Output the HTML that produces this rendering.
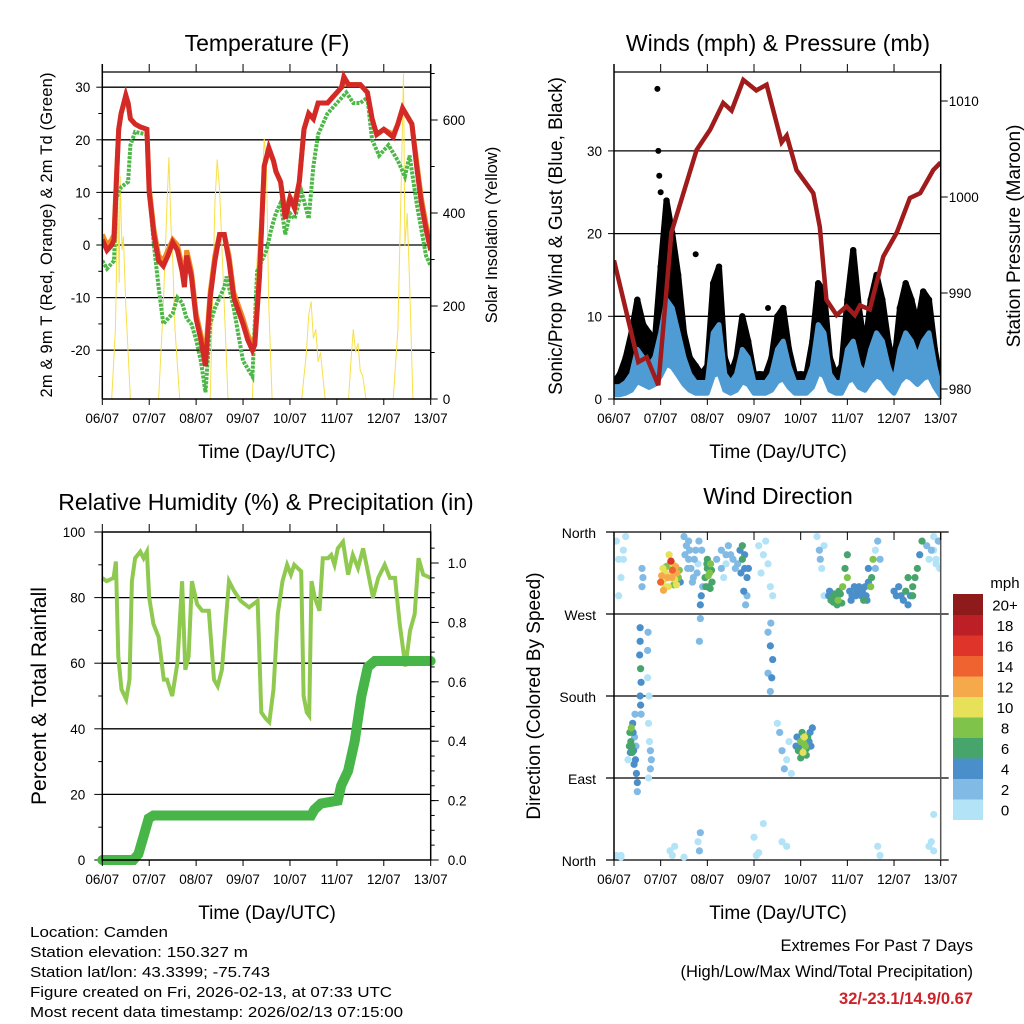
<!DOCTYPE html>
<html><head><meta charset="utf-8"><style>
body{margin:0;background:#fff}
svg{display:block;font-family:"Liberation Sans",sans-serif}
</style></head><body>
<svg id="s" width="1024" height="1024" viewBox="0 0 1024 1024" xmlns="http://www.w3.org/2000/svg">
<text x="267" y="51" font-size="23" text-anchor="middle">Temperature (F)</text>
<text x="778" y="51" font-size="23" text-anchor="middle">Winds (mph) &amp; Pressure (mb)</text>
<text x="266" y="510" font-size="23" text-anchor="middle">Relative Humidity (%) &amp; Precipitation (in)</text>
<text x="778" y="504" font-size="23" text-anchor="middle">Wind Direction</text>
<text transform="translate(52,235) rotate(-90)" font-size="16.5" text-anchor="middle" textLength="325">2m &amp; 9m T (Red, Orange) &amp; 2m Td (Green)</text>
<text transform="translate(497,235) rotate(-90)" font-size="16.5" text-anchor="middle">Solar Insolation (Yellow)</text>
<text transform="translate(562,236) rotate(-90)" font-size="19" text-anchor="middle">Sonic/Prop Wind &amp; Gust (Blue, Black)</text>
<text transform="translate(1020,236) rotate(-90)" font-size="19" text-anchor="middle">Station Pressure (Maroon)</text>
<text transform="translate(46,696) rotate(-90)" font-size="21" text-anchor="middle">Percent &amp; Total Rainfall</text>
<text transform="translate(540,696) rotate(-90)" font-size="19" text-anchor="middle">Direction (Colored By Speed)</text>
<text x="267" y="458" font-size="19" text-anchor="middle">Time (Day/UTC)</text>
<text x="778" y="458" font-size="19" text-anchor="middle">Time (Day/UTC)</text>
<text x="267" y="919" font-size="19" text-anchor="middle">Time (Day/UTC)</text>
<text x="778" y="919" font-size="19" text-anchor="middle">Time (Day/UTC)</text>
<g font-size="14.5">
<text x="30" y="937" textLength="138" lengthAdjust="spacingAndGlyphs">Location: Camden</text>
<text x="30" y="957" textLength="218" lengthAdjust="spacingAndGlyphs">Station elevation: 150.327 m</text>
<text x="30" y="977" textLength="240" lengthAdjust="spacingAndGlyphs">Station lat/lon: 43.3399; -75.743</text>
<text x="30" y="997" textLength="362" lengthAdjust="spacingAndGlyphs">Figure created on Fri, 2026-02-13, at 07:33 UTC</text>
<text x="30" y="1017" textLength="373" lengthAdjust="spacingAndGlyphs">Most recent data timestamp: 2026/02/13 07:15:00</text>
</g>
<text x="973" y="951" font-size="16.5" text-anchor="end">Extremes For Past 7 Days</text>
<text x="973" y="977" font-size="16.5" text-anchor="end">(High/Low/Max Wind/Total Precipitation)</text>
<text x="973" y="1004" font-size="16.5" font-weight="bold" fill="#cc2229" text-anchor="end">32/-23.1/14.9/0.67</text>
</svg>
<script>
// ---- data ----
const dayLabels=["06/07","07/07","08/07","09/07","10/07","11/07","12/07","13/07"];
const tT=[0,0.1,0.2,0.25,0.3,0.35,0.4,0.5,0.55,0.6,0.7,0.8,0.95,1.0,1.1,1.2,1.3,1.4,1.5,1.6,1.7,1.75,1.8,1.9,2.0,2.1,2.2,2.3,2.4,2.5,2.6,2.7,2.8,3.0,3.1,3.2,3.25,3.35,3.45,3.55,3.65,3.7,3.8,3.9,4.0,4.1,4.2,4.3,4.4,4.5,4.6,4.7,4.8,4.9,5.0,5.1,5.15,5.25,5.5,5.65,5.75,5.85,6.0,6.2,6.3,6.4,6.6,6.7,6.8,6.9,7.0];
const tempRed=[1,-1,0,1,12,22,25,28.5,27,24,23,22.5,22,10,2,-3,-4,-2,0.5,-1,-5,-8,-2,-6,-14,-18,-23,-10,-3,2,2,-3,-10,-15,-18,-20,-19,-6,15,18.5,16,14,12,5,9,7,12,22,25,24,27,27,27,28,29,30,32,30.5,30.5,29,24,21,22,20.5,23,26,23,15,8,3,-1];
const tempOrange=[2,0,1,2,13,22,25,28,27,24,23,22.5,22,11,3,-2,-3,-1,1,0,-4,-7,-1,-5,-13,-17,-21,-9,-2,2,2,-2,-9,-14,-17,-19,-18,-5,15,18,16,14,12,6,9,8,12,22,25,24,27,27,27,28,29,30,31,30.5,30.5,29,24,21,22,21,23,26,23,16,9,4,0];
const tTd=[0,0.1,0.25,0.3,0.4,0.55,0.6,0.7,0.95,1.0,1.1,1.2,1.3,1.4,1.5,1.6,1.7,1.8,1.9,2.0,2.1,2.2,2.3,2.4,2.6,2.65,2.8,3.0,3.2,3.3,3.5,3.6,3.7,3.8,3.9,4.0,4.1,4.25,4.4,4.5,4.6,4.8,5.0,5.2,5.35,5.5,5.65,5.75,5.9,6.1,6.3,6.45,6.55,6.7,6.9,7.0];
const dewGreen=[-3,-4.5,-3,9,11,12,19,21.5,21,10,0,-8,-15,-14,-13,-10,-11,-14,-15,-18,-22,-28,-15,-12,-8,-6,-12,-22,-25,-5,-1,3,6,8,2,6,5,10,5,15,21,25,27,29,27,27,28,20,17,19,16,13,17,8,-2,-4];
const tSol=[0.2,0.28,0.33,0.36,0.38,0.42,0.45,0.5,0.55,0.6,1.2,1.3,1.38,1.42,1.46,1.5,1.55,1.65,2.3,2.4,2.45,2.5,2.6,2.68,3.2,3.3,3.4,3.45,3.5,3.55,3.62,4.25,4.35,4.4,4.45,4.5,4.55,4.6,4.65,4.75,5.25,5.3,5.35,5.4,5.45,5.5,5.55,5.62,6.2,6.3,6.38,6.42,6.45,6.5,6.55,6.62];
const solar=[0,150,430,250,480,320,350,200,100,0,0,200,420,520,380,300,150,0,0,420,515,450,200,0,0,300,450,560,500,200,0,0,100,180,210,130,150,80,100,0,0,80,150,100,120,60,50,0,0,150,500,700,330,400,250,0];
const tP=[0,0.52,0.7,0.95,1.23,1.77,2.06,2.34,2.52,2.77,3.05,3.27,3.59,3.7,3.91,4.27,4.41,4.55,4.77,4.98,5.16,5.27,5.48,5.77,6.06,6.34,6.56,6.84,7.0];
const pressure=[993.4,982.8,983.3,980.4,996.3,1004.9,1007,1009.8,1009,1012.2,1011.1,1011.7,1005.7,1006.4,1002.8,1000.4,996.9,989.3,987.7,988.6,987.7,988.7,988.3,993.8,996.3,999.9,1000.4,1002.8,1003.6];
const windSpd=[1.5,1.5,2,3,6,5,4,5,8,12,11,8,5,3,2,2,2,8,9,3,2,3,6,5,2,2,2,3,6,7,4,2,2,2,4,9,8,3,2,2,6,7,4,3,6,8,7,4,2,6,8,7,5,7,8,4,1];
const windGust=[2,3,5,8,12,9,8,7,16,24,20,15,8,5,4,3,4,14,16,5,3,5,10,7,3,3,3,5,10,11,6,3,3,3,7,14,13,5,3,4,12,18,11,6,12,15,12,7,4,11,14,12,9,13,12,6,2];
const gustOutT=[0.93,0.95,0.97,1.0,1.75,3.3];
const gustOutV=[37.5,30,27,25,17.5,11];
const tRH=[0,0.09,0.24,0.29,0.34,0.41,0.51,0.58,0.63,0.7,0.81,0.88,0.95,1.0,1.09,1.2,1.31,1.38,1.49,1.6,1.7,1.77,1.84,1.91,2.02,2.13,2.27,2.38,2.46,2.55,2.7,2.81,2.95,3.13,3.31,3.39,3.49,3.56,3.65,3.74,3.84,3.94,4.02,4.09,4.24,4.29,4.36,4.41,4.46,4.53,4.63,4.7,4.81,4.88,4.95,5.02,5.13,5.24,5.34,5.45,5.56,5.66,5.77,5.88,6.02,6.13,6.24,6.34,6.46,6.56,6.66,6.74,6.84,7.0];
const rh=[86,85,86,91,62,52,49,55,85,92,94,92,94,80,72,68,55,55,50,60,85,58,62,85,78,76,76,55,53,58,85,82,79,77,79,45,43,42,52,75,85,90,87,90,88,50,45,44,85,80,76,92,92,93,90,95,97,87,93,89,95,88,80,86,90,86,86,72,59,70,75,92,87,86];
const tPr=[0,0.66,0.77,0.88,0.99,1.09,4.45,4.52,4.66,5.02,5.09,5.24,5.38,5.52,5.66,5.81,7.0];
const precip=[0,0,0.02,0.08,0.14,0.15,0.15,0.17,0.19,0.2,0.25,0.3,0.4,0.55,0.65,0.67,0.67];
const dirT=[
0.05,0.1,0.15,0.2,0.1,0.05,0.15,0.3,0.2,0.25,
0.34,0.36,0.38,0.4,0.42,0.44,0.46,0.48,0.45,0.37,0.39,0.5,0.5,
0.56,0.56,0.55,0.57,0.58,0.56,0.57,0.58,0.6,0.6,0.62,
0.72,0.75,0.74,0.76,0.78,0.8,0.78,0.74,0.72,0.73,
1.0,1.05,1.1,1.15,1.2,1.25,1.3,1.35,1.1,1.2,1.28,1.32,1.38,1.42,1.18,1.22,
1.5,1.55,1.6,1.65,1.7,1.8,1.75,1.9,1.6,
1.95,2.0,2.05,2.1,2.0,2.03,2.07,
1.85,1.85,1.83,1.87,
2.2,2.3,2.4,2.5,2.35,2.6,2.45,
2.7,2.75,2.8,2.85,2.78,2.82,2.75,2.85,
3.1,3.2,3.3,3.15,3.25,3.35,3.4,
3.3,3.35,3.4,3.38,3.35,3.36,3.3,
3.5,3.55,3.6,3.7,3.65,3.75,3.8,3.6,3.7,
3.9,3.95,4.0,4.05,4.1,4.15,4.2,4.0,4.08,3.92,4.12,4.25,
4.35,4.4,4.42,4.45,4.5,4.5,
4.6,4.65,4.7,4.75,4.8,4.85,4.9,4.95,5.0,5.0,4.88,
5.05,5.1,5.15,5.2,5.3,5.35,5.4,5.45,5.5,5.45,
5.6,5.65,5.7,5.6,5.7,5.65,
1.2,1.25,1.3,1.8,1.85,1.83,3.0,3.05,3.2,3.1,0.15,1.5,
6.0,6.05,6.1,6.15,6.2,6.25,6.3,6.35,6.4,6.45,6.5,6.55,6.6,6.7,6.75,6.8,6.85,6.9,6.95,6.3,6.4,
6.75,6.8,6.85,6.85,
1.02,1.08,1.12,1.16,1.24,1.3,1.34,1.4,1.06,1.26,
1.52,1.58,1.62,1.68,1.72,1.78,1.82,1.88,
1.97,2.02,2.06,2.09,1.99,
2.3,2.4,2.55,2.65,2.72,2.8,2.88,
3.97,4.02,4.07,4.12,4.18,4.22,4.03,
4.62,4.68,4.72,4.78,4.82,
5.08,5.18,5.25,5.32,5.38,5.42,5.52,5.55,
0.33,0.35,0.41,0.43,0.47,
6.85,6.9,6.95,6.98];
const dirD=[
350,330,310,340,290,5,3,110,330,355,
140,130,125,150,120,135,110,95,160,145,118,85,75,
255,240,225,210,195,180,170,160,300,320,310,
200,180,150,130,120,110,100,90,230,250,
305,320,315,310,325,318,308,315,300,312,302,322,310,305,335,328,
355,345,330,320,310,325,340,300,350,
310,320,315,305,330,300,325,
280,265,240,290,
330,340,325,335,310,320,345,
340,330,320,310,295,280,345,290,
345,335,325,315,350,300,290,
250,235,220,200,185,260,205,
150,140,120,110,100,130,95,20,15,
125,120,130,118,125,135,140,112,135,135,115,145,
355,340,330,320,345,290,
290,285,283,287,285,292,300,320,335,310,282,
295,290,300,295,290,285,290,305,300,320,
340,350,330,320,5,15,
10,5,15,20,30,10,25,5,40,8,5,3,
295,290,300,290,285,295,280,290,300,310,320,335,350,345,330,340,355,325,350,310,290,
15,20,10,50,
312,308,322,300,310,316,302,318,296,325,
335,320,340,305,330,315,350,340,
300,312,298,318,325,
320,335,330,325,315,335,320,
125,118,128,122,130,125,140,
295,288,292,280,295,
285,290,300,295,300,285,310,330,
125,118,140,105,125,
340,330,350,320];
const dirS=[
0,0,1,0,1,0,0,0,0,1,
6,7,6,5,4,3,4,4,3,8,7,4,3,
4,4,4,6,4,4,4,3,3,3,3,
1,1,0,1,2,3,2,1,2,2,
14,11,10,12,9,14,10,12,10,11,9,12,8,5,10,16,
2,3,2,2,3,1,2,2,3,
6,7,8,6,6,5,9,
4,3,2,4,
2,2,1,2,1,3,2,
5,6,4,4,4,3,6,3,
1,0,0,1,0,0,0,
3,4,4,4,3,2,3,
1,2,2,1,2,1,0,1,0,
4,6,8,10,8,6,4,6,11,4,6,4,
1,2,2,1,1,1,
5,6,6,7,8,6,8,7,6,8,6,
4,4,5,4,4,6,4,5,8,5,
1,2,2,2,1,0,
0,0,1,1,2,2,0,0,1,0,0,0,
4,5,4,5,4,6,4,5,6,7,6,5,6,2,1,2,1,1,1,6,7,
0,0,0,1,
12,11,9,10,13,11,10,8,12,10,
3,2,3,3,2,2,3,2,
6,8,7,6,7,
2,2,2,3,5,4,4,
5,7,8,7,5,4,6,
5,7,6,6,7,
4,5,4,5,4,4,6,8,
6,5,4,4,3,
1,1,2,1];
const cbLabels=["0","2","4","6","8","10","12","14","16","18","20+"];
const cbColors=["#b3e3f7","#80bae5","#4a8fca","#47a56c","#7fc34a","#e7e15a","#f6a94b","#ef6330","#de3429","#bd1f27","#8e1a1c"];

// ---- helpers ----
const NS="http://www.w3.org/2000/svg", S=document.getElementById('s');
function el(tag,at,parent){const e=document.createElementNS(NS,tag);for(const k in at)e.setAttribute(k,at[k]);(parent||S).appendChild(e);return e;}
function txt(x,y,s,at,parent){const e=el('text',Object.assign({x:x,y:y,'font-size':13.5},at||{}),parent);e.textContent=s;return e;}
function path(xs,ys,fx,fy){return xs.map((t,i)=>(i?'L':'M')+fx(t).toFixed(1)+','+fy(ys[i]).toFixed(1)).join('');}
function xAxis(g,x0,x1,yb,yt,sx){
  for(let i=0;i<8;i++){const x=sx(i);
    const l=el('line',{x1:x,x2:x,y1:yb,y2:yb+6,stroke:'#000'},g);
    
    el('line',{x1:x,x2:x,y1:yt,y2:yt-8,stroke:'#000'},g);
    const t=txt(x,yb+24,dayLabels[i],{'text-anchor':'middle'},g);
    }
}
function frame(g,x0,y0,x1,y1){el('rect',{x:x0,y:y0,width:x1-x0,height:y1-y0,fill:'none',stroke:'#000','stroke-width':1.5},g);}

// ===== Temperature panel =====
(function(){
const g=el('g',{});
const X0=102.3,X1=430.7,Y0=64,Y1=399;
const sx=t=>X0+t*(X1-X0)/7, sy=v=>245-5.26*v, sr=v=>399-0.465*v;
const cp=el('clipPath',{id:'c1'},g);el('rect',{x:X0,y:Y0,width:X1-X0,height:Y1-Y0},cp);
[30,20,10,0,-10,-20].forEach(v=>{const l=el('line',{x1:X0,x2:X1,y1:sy(v),y2:sy(v),stroke:'#000','stroke-width':1.3},g);
 el('line',{x1:X0-6,x2:X0,y1:sy(v),y2:sy(v),stroke:'#000'},g);
 const t=txt(X0-12,sy(v)+5,String(v),{'text-anchor':'end'},g);});
for(let v=-25;v<=30;v+=10)el('line',{x1:X0-4,x2:X0,y1:sy(v),y2:sy(v),stroke:'#000'},g);
el('line',{x1:X0,x2:X1,y1:72,y2:72,stroke:'#000','stroke-width':1.3},g);
[0,200,400,600].forEach(v=>{el('line',{x1:X1,x2:X1+7,y1:sr(v),y2:sr(v),stroke:'#000'},g);
 const t=txt(X1+12,sr(v)+5,String(v),{},g);});
for(let v=100;v<=700;v+=200)el('line',{x1:X1,x2:X1+4,y1:sr(v),y2:sr(v),stroke:'#000'},g);
const cg=el('g',{'clip-path':'url(#c1)'},g);
let p=el('path',{d:path(tSol,solar,sx,sr),fill:'none',stroke:'#f7e04a','stroke-width':1},cg);
p=el('path',{d:path(tTd,dewGreen,sx,sy),fill:'none',stroke:'#4db848','stroke-width':4,'stroke-dasharray':'3 1.2'},cg);
p=el('path',{d:path(tT,tempOrange,sx,sy),fill:'none',stroke:'#f08a24','stroke-width':5},cg);
p=el('path',{d:path(tT,tempRed,sx,sy),fill:'none',stroke:'#d42a27','stroke-width':5},cg);
el('line',{x1:X0,x2:X0,y1:Y0,y2:Y1,stroke:'#000','stroke-width':1.5},g);
el('line',{x1:X1,x2:X1,y1:Y0,y2:Y1,stroke:'#000','stroke-width':1.5},g);
el('line',{x1:X0,x2:X1,y1:Y1,y2:Y1,stroke:'#000','stroke-width':1.5},g);
xAxis(g,X0,X1,Y1,Y0+8,sx);
})();

// ===== Winds panel =====
(function(){
const g=el('g',{});
const X0=614,X1=940.7,Y0=64,Y1=399;
const sx=t=>X0+t*(X1-X0)/7, sy=v=>399-8.27*v, sp=v=>101+(1010-v)*9.6;
const cp=el('clipPath',{id:'c2'},g);el('rect',{x:X0,y:Y0,width:X1-X0,height:Y1-Y0},cp);
[10,20,30].forEach(v=>{const l=el('line',{x1:X0,x2:X1,y1:sy(v),y2:sy(v),stroke:'#000','stroke-width':1.3},g);});
el('line',{x1:X0,x2:X1,y1:72,y2:72,stroke:'#000','stroke-width':1.3},g);
[0,10,20,30].forEach(v=>{el('line',{x1:X0-6,x2:X0,y1:sy(v),y2:sy(v),stroke:'#000'},g);
 const t=txt(X0-12,sy(v)+5,String(v),{'text-anchor':'end'},g);});
[980,990,1000,1010].forEach(v=>{el('line',{x1:X1,x2:X1+7,y1:sp(v),y2:sp(v),stroke:'#000'},g);
 const t=txt(X1+8,sp(v)+5,String(v),{},g);});
const cg=el('g',{'clip-path':'url(#c2)'},g);
const tW=windGust.map((v,i)=>i/8);
const top=tW.map((t,i)=>(i?'L':'M')+sx(t).toFixed(1)+','+sy(windGust[i]).toFixed(1)).join('');
const bot=tW.slice().reverse().map((t,j)=>{const i=tW.length-1-j;return 'L'+sx(t).toFixed(1)+','+sy(windSpd[i]).toFixed(1);}).join('');
let p=el('path',{d:top+bot+'Z',fill:'#000',stroke:'#000','stroke-width':6,'stroke-linejoin':'round'},cg);
windGust.forEach((v,i)=>{const c=el('circle',{cx:sx(tW[i]),cy:sy(v),r:3.2,fill:'#000'},cg);});
gustOutV.forEach((v,i)=>{const c=el('circle',{cx:sx(gustOutT[i]),cy:sy(v),r:3,fill:'#000'},cg);});
const btop=tW.map((t,i)=>(i?'L':'M')+sx(t).toFixed(1)+','+sy(windSpd[i]).toFixed(1)).join('');
const bbot=tW.slice().reverse().map((t,j)=>{const i=tW.length-1-j;return 'L'+sx(t).toFixed(1)+','+sy(windSpd[i]*0.35).toFixed(1);}).join('');
p=el('path',{d:btop+bbot+'Z',fill:'#4f9bd4',stroke:'#4f9bd4','stroke-width':5,'stroke-linejoin':'round'},cg);
p=el('path',{d:path(tP,pressure,sx,sp),fill:'none',stroke:'#a01c1c','stroke-width':4.5},cg);
el('line',{x1:X0,x2:X0,y1:Y0,y2:Y1,stroke:'#000','stroke-width':1.5},g);
el('line',{x1:X1,x2:X1,y1:Y0,y2:Y1,stroke:'#000','stroke-width':1.5},g);
el('line',{x1:X0,x2:X1,y1:Y1,y2:Y1,stroke:'#000','stroke-width':1.5},g);
xAxis(g,X0,X1,Y1,Y0+8,sx);
})();

// ===== RH panel =====
(function(){
const g=el('g',{});
const X0=102.3,X1=430.7,Y0=532,Y1=860;
const sx=t=>X0+t*(X1-X0)/7, sy=v=>860-3.28*v, sr=v=>860-297*v;
[20,40,60,80].forEach(v=>{const l=el('line',{x1:X0,x2:X1,y1:sy(v),y2:sy(v),stroke:'#000','stroke-width':1.3},g);});
[0,20,40,60,80,100].forEach(v=>{el('line',{x1:X0-8,x2:X0,y1:sy(v),y2:sy(v),stroke:'#000'},g);
 const t=txt(X0-17,sy(v)+5,String(v),{'text-anchor':'end'},g);});
for(let v=10;v<100;v+=20)el('line',{x1:X0-4,x2:X0,y1:sy(v),y2:sy(v),stroke:'#000'},g);
[0,0.2,0.4,0.6,0.8,1.0].forEach(v=>{el('line',{x1:X1,x2:X1+8,y1:sr(v),y2:sr(v),stroke:'#000'},g);
 const t=txt(X1+17,sr(v)+5,v.toFixed(1),{},g);});
for(let v=0.05;v<1.1;v+=0.05)el('line',{x1:X1,x2:X1+4,y1:sr(v),y2:sr(v),stroke:'#000'},g);
let p=el('path',{d:path(tRH,rh,sx,sy),fill:'none',stroke:'#8fc94f','stroke-width':4},g);
p=el('path',{d:path(tPr,precip,sx,sr),fill:'none',stroke:'#48b548','stroke-width':10,'stroke-linecap':'round'},g);
frame(g,X0,Y0,X1,Y1);
xAxis(g,X0,X1,Y1,Y0,sx);
})();

// ===== Direction panel =====
(function(){
const g=el('g',{});
const X0=614,X1=940.7,Y0=532,Y1=860;
const sx=t=>X0+t*(X1-X0)/7, sy=d=>860-d*328/360;
const names=["North","East","South","West","North"];
[0,90,180,270,360].forEach((d,i)=>{const l=el('line',{x1:X0-8,x2:X1+8,y1:sy(d),y2:sy(d),stroke:'#000','stroke-width':1.3},g);
 const t=txt(X0-18,sy(d)+6,names[i],{'text-anchor':'end','font-size':14},g);});
const cp=el('clipPath',{id:'c4'},g);el('rect',{x:X0,y:Y0-4,width:X1-X0,height:Y1-Y0+8},cp);
const cg=el('g',{'clip-path':'url(#c4)'},g);
const n=Math.min(dirT.length,dirD.length,dirS.length);
const order=[];for(let i=0;i<n;i++)order.push(i);
order.sort((a,b)=>dirS[a]-dirS[b]);
order.forEach(i=>{const ci=Math.min(10,Math.floor(dirS[i]/2));
 const c=el('circle',{cx:sx(dirT[i]),cy:sy(dirD[i]),r:3.6,fill:cbColors[ci]},cg);
 
 });
el('line',{x1:X0,x2:X0,y1:Y0,y2:Y1,stroke:'#000','stroke-width':1.5},g);
el('line',{x1:X1,x2:X1,y1:Y0,y2:Y1,stroke:'#555','stroke-width':1.5},g);
xAxis(g,X0,X1,Y1,Y0+8,sx);
const cb=el('g',{},g);
const bx=953,bw=30,by=594,bh=20.5;
cbColors.forEach((c,i)=>{const yy=by+(10-i)*bh;
 const r=el('rect',{x:bx,y:yy,width:bw,height:bh+0.5,fill:c},cb);
 const t=txt(1005,yy+bh/2+6,cbLabels[i],{'text-anchor':'middle','font-size':15},cb);});
const u=txt(1005,588,'mph',{'text-anchor':'middle','font-size':15},cb);
})();
</script>
</body></html>
